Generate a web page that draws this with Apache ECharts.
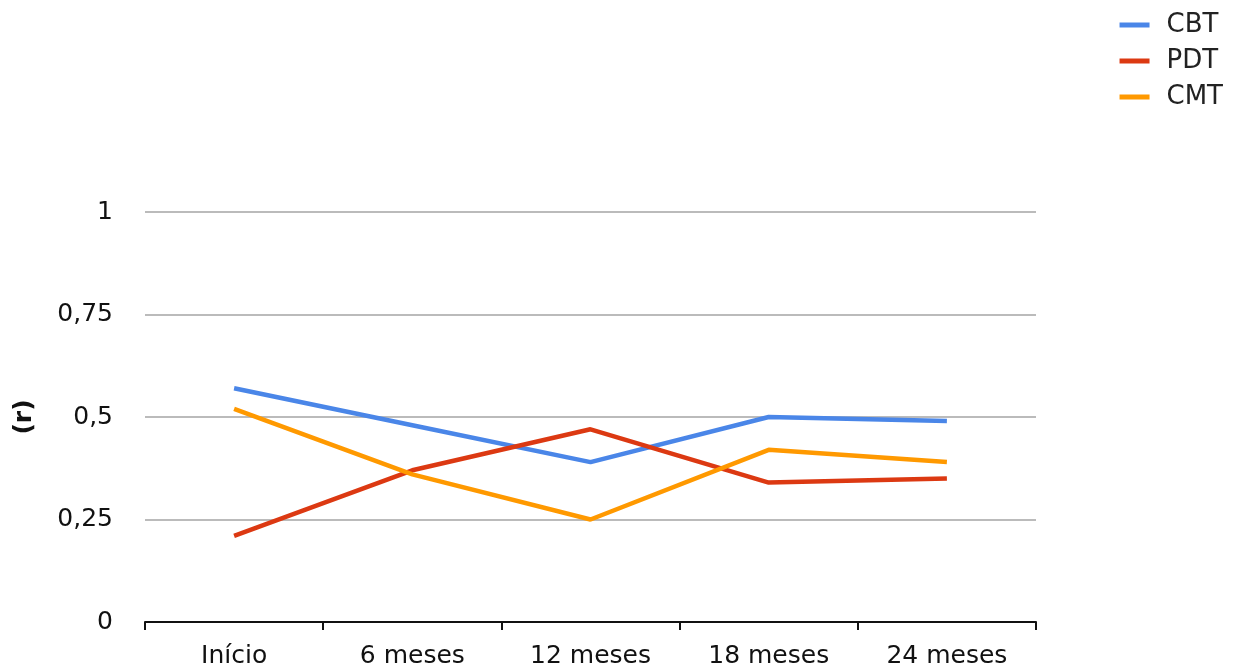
<!DOCTYPE html>
<html>
<head>
<meta charset="utf-8">
<script src="https://cdn.jsdelivr.net/npm/echarts@6/dist/echarts.min.js"></script>
<style>
  html, body { margin: 0; padding: 0; background: #fff; }
  #chart { width: 1240px; height: 670px; }
</style>
</head>
<body>
<div id="chart"></div>
<script>
// Correlation (r) over follow-up time for each therapy group
const categories = ['Início', '6 meses', '12 meses', '18 meses', '24 meses'];
const cbt = [0.57, 0.48, 0.39, 0.50, 0.49];
const pdt = [0.21, 0.37, 0.47, 0.34, 0.35];
const cmt = [0.52, 0.36, 0.25, 0.42, 0.39];
const yTicks = [0, 0.25, 0.5, 0.75, 1];

const FONT = 'DejaVu Sans, Verdana, sans-serif';
const colors = { CBT: '#4a86e8', PDT: '#dc3912', CMT: '#ff9900' };

const chart = echarts.init(document.getElementById('chart'), null, { renderer: 'canvas' });

function line(name, data) {
  return {
    name: name,
    type: 'line',
    data: data,
    symbol: 'none',
    smooth: false,
    lineStyle: { width: 4.5, color: colors[name] },
    itemStyle: { color: colors[name] }
  };
}

chart.setOption({
  animation: false,
  backgroundColor: '#ffffff',
  textStyle: { fontFamily: FONT },
  legend: {
    orient: 'vertical',
    right: 12,
    top: 7,
    itemWidth: 30,
    itemHeight: 5,
    itemGap: 10,
    icon: 'rect',
    textStyle: { fontFamily: FONT, fontSize: 26, color: '#222', padding: [0, 0, 0, 12] },
    data: ['CBT', 'PDT', 'CMT']
  },
  grid: { left: 145, right: 204, top: 212, bottom: 48, containLabel: false },
  xAxis: {
    type: 'category',
    data: categories,
    boundaryGap: true,
    axisLine: { show: true, lineStyle: { color: '#111', width: 2 } },
    axisTick: { show: true, length: 8, alignWithLabel: false, lineStyle: { color: '#111', width: 2 } },
    axisLabel: { fontFamily: FONT, fontSize: 25, color: '#111', margin: 22 },
    splitLine: { show: false }
  },
  yAxis: {
    type: 'value',
    min: yTicks[0],
    max: yTicks[yTicks.length - 1],
    interval: 0.25,
    name: '(r)',
    nameLocation: 'middle',
    nameRotate: 90,
    nameGap: 108,
    nameTextStyle: { fontFamily: FONT, fontSize: 25, fontWeight: 'bold', color: '#111' },
    axisLine: { show: false },
    axisTick: { show: false },
    axisLabel: {
      fontFamily: FONT, fontSize: 25, color: '#111', margin: 32,
      formatter: v => String(v).replace('.', ',')
    },
    splitLine: { show: true, lineStyle: { color: '#bbbbbb', width: 2 } }
  },
  series: [line('CBT', cbt), line('PDT', pdt), line('CMT', cmt)]
});
</script>
</body>
</html>
